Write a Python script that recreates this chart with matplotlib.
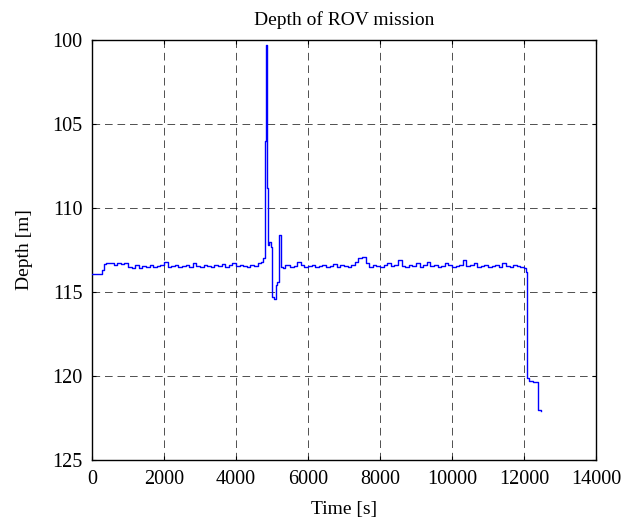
import numpy as np
import matplotlib
matplotlib.use("Agg")
import matplotlib.pyplot as plt

# ---- data ----
t_start = [0, 100, 200, 280, 330, 400]
d_start = [113.9, 113.92, 113.9, 113.7, 113.35, 113.3]

# cruise segment 1: 500 .. 4700 every 100 s
t_seg1 = np.arange(500, 4800, 100)
d_seg1 = [113.3, 113.4, 113.3, 113.35, 113.3, 113.5, 113.55, 113.4, 113.6, 113.45,
          113.5, 113.4, 113.5, 113.45, 113.4, 113.2, 113.5, 113.45, 113.4, 113.5,
          113.45, 113.4, 113.5, 113.3, 113.45, 113.5, 113.4, 113.45, 113.5, 113.4,
          113.45, 113.35, 113.5, 113.4, 113.3, 113.45, 113.4, 113.45, 113.5, 113.4,
          113.45, 113.3, 113.2]

# manoeuvre around 4800-5400 s
t_spike = [4760, 4800, 4830, 4860, 4890, 4930, 4960, 5000, 5050, 5100, 5150, 5200,
           5240, 5300, 5350]
d_spike = [113.0, 106.0, 100.3, 108.8, 112.2, 112.0, 112.3, 115.3, 115.4, 114.6,
           114.4, 111.6, 113.5, 113.6, 113.4]

# cruise segment 2: 5400 .. 12000 every 100 s
t_seg2 = np.arange(5400, 12100, 100)
d_seg2 = [113.4, 113.5, 113.45, 113.2, 113.4, 113.5, 113.45, 113.4, 113.5, 113.45,
          113.4, 113.5, 113.45, 113.35, 113.5, 113.4, 113.45, 113.5, 113.4, 113.2,
          113.0, 112.9, 113.3, 113.5, 113.4, 113.45, 113.5, 113.4, 113.3, 113.45,
          113.4, 113.1, 113.45, 113.5, 113.4, 113.45, 113.3, 113.5, 113.4, 113.2,
          113.45, 113.4, 113.5, 113.45, 113.3, 113.4, 113.5, 113.45, 113.4, 113.1,
          113.45, 113.4, 113.3, 113.5, 113.45, 113.4, 113.5, 113.45, 113.4, 113.5,
          113.3, 113.45, 113.5, 113.4, 113.45, 113.5, 113.6]

# surfacing / end
t_end = [12050, 12083, 12140, 12250, 12390, 12470]
d_end = [113.8, 120.1, 120.3, 120.35, 122.0, 122.1]

title = "Depth of ROV mission"
xlabel = "Time [s]"
ylabel = "Depth [m]"
xticks = [0, 2000, 4000, 6000, 8000, 10000, 12000, 14000]
yticks = [100, 105, 110, 115, 120, 125]

t = np.concatenate([t_start, t_seg1, t_spike, t_seg2, t_end])
d = np.concatenate([d_start, d_seg1, d_spike, d_seg2, d_end])

plt.rcParams['font.family'] = ['Liberation Serif', 'DejaVu Serif']
plt.rcParams['lines.scale_dashes'] = False

fig = plt.figure(figsize=(6.32, 5.2), dpi=100)
ax = fig.add_axes([92/632, 1-460/520, (596-92)/632, (460-40)/520])

ax.plot(t, d, color='#0000ff', lw=1.0, drawstyle='steps-post', zorder=3)

ax.set_xlim(0, 14000)
ax.set_ylim(125, 100)
ax.set_xticks(xticks)
ax.set_yticks(yticks)
ax.grid(True, color='black', linestyle=(0, (5.5, 3.5)), linewidth=0.6, alpha=0.8)
ax.tick_params(direction='in', length=3, top=True, right=True, labelsize=14.5, pad=7)
for s in ax.spines.values():
    s.set_linewidth(1.0)

ax.set_title(title, fontsize=14, pad=11)
ax.set_xlabel(xlabel, fontsize=14, labelpad=9)
ax.set_ylabel(ylabel, fontsize=14, labelpad=14)

fig.savefig("out.png", dpi=100)
